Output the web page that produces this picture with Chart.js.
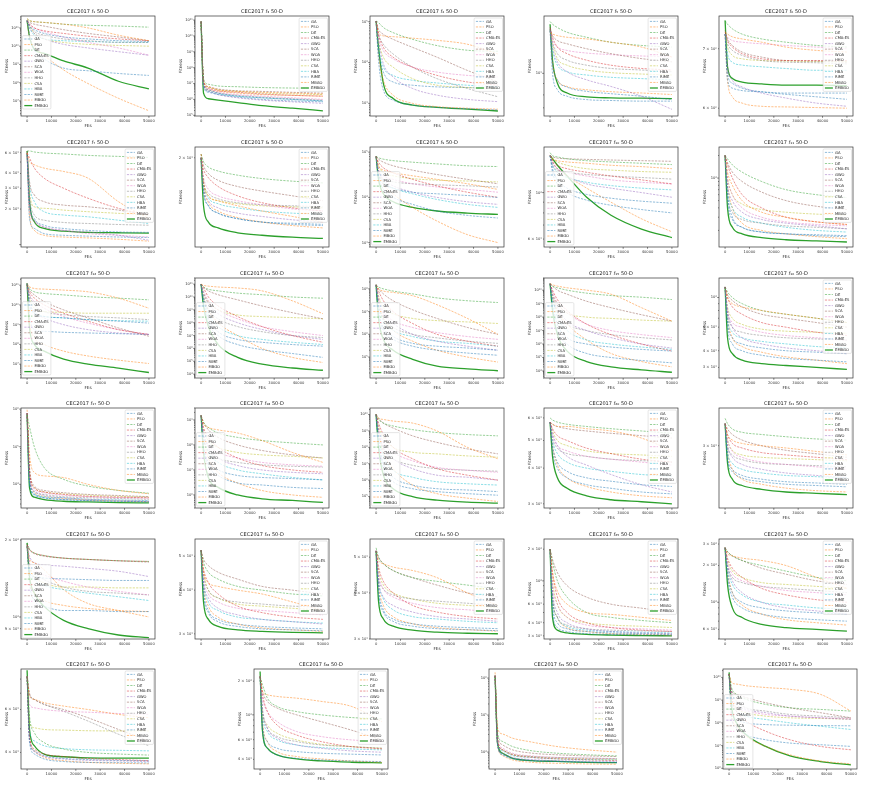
<!DOCTYPE html>
<html><head><meta charset="utf-8">
<script src="https://cdn.jsdelivr.net/npm/chart.js@4.4.1/dist/chart.umd.min.js"></script>
<style>
html,body{margin:0;padding:0;background:#fff;}
#wrap{position:relative;width:872px;height:785px;overflow:hidden;background:#fff;}
#wrap canvas{position:absolute;}
</style></head><body><div id="wrap"></div>
<script>
// ---------------- data ----------------
const FES = [0, 1000, 3000, 7000, 15000, 25000, 37500, 50000];
const X_TICKS = [0, 10000, 20000, 30000, 40000, 50000];
const ALGOS = ['GA','PSO','DE','CMA-ES','GWO','SCA','WOA','HHO','CSA','HBA','RIME','MBGO','EMBGO'];
// each function: one row per algorithm (ALGOS order), one value per FES point

const f1 = [
[2.5e11,1.3e11,8e10,5e10,3.2e10,2.5e10,2e10,1.8e10],
[3.2e11,2.5e11,2.2e11,2e11,1.6e11,1e11,4e10,2e10],
[3.2e11,2.5e11,2.2e11,2e11,1.6e11,1.4e11,1.26e11,1.1e11],
[2.5e11,1.6e11,1e11,7e10,5e10,3.5e10,2.5e10,2e10],
[2.5e11,1e11,5e10,2.5e10,1.26e10,8e9,5e9,3.2e9],
[2.5e11,2e11,1.6e11,1.26e11,8e10,5e10,3.2e10,2e10],
[2.5e11,1.6e11,1e11,6.3e10,3.2e10,1.6e10,8e9,3.2e9],
[2.5e11,1.3e11,6.3e10,4e10,2.5e10,2e10,1.6e10,1.6e10],
[2.5e11,1.3e11,5e10,2.5e10,1.6e10,1.26e10,1.1e10,1e10],
[2.5e11,1e11,4e10,2.5e10,2e10,1.8e10,1.66e10,1.6e10],
[2.5e11,4e10,6.3e9,2e9,6.3e8,4.5e8,3.2e8,2.5e8],
[2.5e11,3.2e10,1e10,3.2e9,5e8,9e7,1.4e7,2.9e6],
[2.5e11,3.2e10,6.6e9,4e9,1.55e9,6.3e8,1.2e8,4.6e7]];
const f3 = [
[8e10,1e7,4e6,2.5e6,1.6e6,1.26e6,1e6,8e5],
[8e10,1.6e7,6.3e6,4e6,3.2e6,2.8e6,2.5e6,2.2e6],
[8e10,2e7,9e6,7e6,6.3e6,5.6e6,5.2e6,5e6],
[8e10,1.26e7,5e6,3.5e6,2.8e6,2.2e6,1.8e6,1.6e6],
[8e10,8e6,3.2e6,2e6,1.26e6,9e5,7e5,5.6e5],
[8e10,1.6e7,6.3e6,4.5e6,3.5e6,3.2e6,2.8e6,2.5e6],
[8e10,1e7,4.5e6,2.8e6,2e6,1.6e6,1.26e6,1e6],
[8e10,8e6,3.5e6,2.5e6,1.8e6,1.4e6,1.1e6,9e5],
[8e10,1.26e7,5.6e6,4e6,3.2e6,2.5e6,2.2e6,2e6],
[8e10,8e6,3.2e6,2.2e6,1.6e6,1.26e6,1e6,8e5],
[8e10,6.3e6,2.8e6,2e6,1.4e6,1e6,8e5,7e5],
[8e10,1e7,4e6,3.2e6,2.5e6,2e6,1.8e6,1.6e6],
[8e10,2.5e6,1.1e6,9e5,6.3e5,4e5,2.8e5,1.9e5]];
const f4 = [
[1.04e5,1.12e4,2.1e3,1.2e3,910,800,740,690],
[1.04e5,5.4e4,4.5e4,4.3e4,3.95e4,3.5e4,2.8e4,1.62e4],
[1.04e5,9.5e4,7.2e4,5.4e4,3.7e4,2.6e4,2.0e4,1.88e4],
[1.04e5,4.9e4,2.35e4,1.35e4,7.7e3,4.84e3,3.34e3,2.78e3],
[1.04e5,3.4e4,9.3e3,4.42e3,2.31e3,1.59e3,1.25e3,1.1e3],
[1.04e5,6.5e4,4.9e4,3.7e4,2.35e4,1.35e4,6.4e3,3.34e3],
[1.04e5,4.1e4,1.95e4,1.23e4,7.7e3,5.83e3,4.84e3,4.42e3],
[1.04e5,4.9e4,2.8e4,1.62e4,7.7e3,4.03e3,2.31e3,1.45e3],
[1.04e5,3.4e4,1.35e4,7.7e3,4.03e3,2.78e3,2.44e3,2.31e3],
[1.04e5,2.35e4,7.7e3,4.84e3,3.67e3,3.16e3,2.78e3,2.53e3],
[1.04e5,1.95e4,5.83e3,3.34e3,2.78e3,2.53e3,2.44e3,2.31e3],
[1.04e5,1.62e4,3.67e3,1.59e3,1e3,830,760,720],
[1.04e5,2.35e4,3.05e3,1.32e3,910,800,720,650]];
const f5 = [
[1555,1000,844,789,762,755,750,750],
[1530,1503,1478,1453,1428,1380,1313,1185],
[1710,1663,1607,1530,1453,1380,1335,1313],
[1607,1453,1313,1226,1146,1088,1052,1035],
[1607,1313,1126,1017,935,873,789,689],
[1580,1478,1404,1358,1290,1226,1165,1126],
[1555,1404,1313,1268,1234,1214,1197,1185],
[1555,1380,1226,1146,1088,1052,1035,1017],
[1580,1358,1165,1088,1035,1007,993,983],
[1555,1268,1088,1017,983,960,947,935],
[1580,1107,935,867,830,810,789,762],
[1555,1107,935,873,844,827,816,803],
[1663,1146,903,816,784,776,773,770]];
const f6 = [
[727,645,632,628,626,624,624,624],
[731,727,722,718,712,703,697,694],
[753,746,737,727,718,712,706,703],
[731,715,703,691,682,679,679,679],
[727,668,645,634,624,616,608,603],
[734,718,706,694,685,679,678,676],
[727,721,715,712,709,706,703,700],
[727,709,697,688,679,676,675,673],
[727,703,688,682,679,678,677,677],
[727,691,676,671,668,665,662,662],
[727,656,640,632,626,622,618,614],
[727,645,618,608,603,602,601,600],
[753,668,648,642,639,637,637,636]];
const f7 = [
[5770,1660,1370,1240,1200,1180,1160,1150],
[5960,5060,4740,4440,4160,3650,2310,1660],
[6200,6200,6080,5960,5850,5690,5580,5470],
[5960,5400,4440,3650,3000,2470,2030,1780],
[5960,2160,1610,1410,1320,1280,1200,1090],
[6200,3420,2630,2310,2160,2090,1960,1780],
[5960,2030,1560,1410,1320,1240,1200,1160],
[5960,2630,1780,1610,1540,1510,1480,1460],
[5960,2810,2090,2030,1960,1900,1840,1780],
[5960,3200,2310,1900,1780,1720,1610,1510],
[5770,2310,1660,1460,1370,1320,1280,1270],
[5960,1780,1320,1200,1160,1140,1110,1070],
[6200,2310,1560,1370,1300,1270,1260,1250]];
const f8 = [
[2000,1600,1450,1380,1330,1300,1290,1280],
[2050,1700,1550,1500,1450,1400,1350,1300],
[2050,1950,1880,1830,1780,1740,1710,1690],
[2000,1850,1750,1650,1550,1480,1430,1400],
[2000,1650,1500,1430,1380,1350,1320,1300],
[2050,1900,1800,1720,1650,1600,1550,1500],
[2000,1750,1620,1550,1500,1460,1420,1400],
[2000,1700,1580,1520,1480,1460,1450,1440],
[2000,1700,1550,1500,1470,1450,1440,1430],
[2000,1680,1530,1470,1430,1400,1380,1370],
[2000,1600,1450,1380,1330,1300,1280,1270],
[2000,1650,1480,1400,1340,1300,1270,1250],
[2000,1450,1300,1250,1210,1190,1175,1165]];
const f9 = [
[8e4,3e4,2e4,1.6e4,1.3e4,1.2e4,1.1e4,1e4],
[8e4,5e4,4e4,3.5e4,3e4,2.5e4,2e4,1.5e4],
[8e4,7.5e4,7e4,6.5e4,6e4,5.5e4,5e4,4.8e4],
[8e4,6e4,4.5e4,3.5e4,2.5e4,1.8e4,1.3e4,1e4],
[8e4,4e4,2.5e4,1.8e4,1.3e4,1e4,8e3,7e3],
[8e4,7e4,6e4,5e4,4e4,3.2e4,2.5e4,2e4],
[8e4,4e4,3e4,2.5e4,2e4,1.7e4,1.5e4,1.3e4],
[8e4,3e4,2.5e4,2.2e4,2e4,1.9e4,1.8e4,1.7e4],
[8e4,5e4,3.5e4,3e4,2.6e4,2.4e4,2.3e4,2.2e4],
[8e4,3.5e4,2.2e4,1.6e4,1.2e4,9e3,7e3,6e3],
[8e4,3e4,1.5e4,1e4,7e3,5e3,4e3,3.5e3],
[8e4,4e4,2e4,1.2e4,6e3,3e3,1.5e3,1e3],
[8e4,2.5e4,1.2e4,8e3,6e3,5e3,4.5e3,4.2e3]];
const f10 = [
[1.5e4,1.3e4,1.15e4,1.05e4,9.8e3,9.4e3,9.1e3,8.9e3],
[1.5e4,1.45e4,1.42e4,1.4e4,1.38e4,1.35e4,1.33e4,1.3e4],
[1.55e4,1.5e4,1.48e4,1.45e4,1.42e4,1.4e4,1.38e4,1.36e4],
[1.5e4,1.42e4,1.35e4,1.3e4,1.25e4,1.2e4,1.15e4,1.1e4],
[1.5e4,1.4e4,1.3e4,1.2e4,1.1e4,1.05e4,1e4,9.5e3],
[1.5e4,1.48e4,1.46e4,1.45e4,1.44e4,1.43e4,1.42e4,1.41e4],
[1.5e4,1.38e4,1.3e4,1.25e4,1.2e4,1.15e4,1.12e4,1.1e4],
[1.5e4,1.35e4,1.28e4,1.25e4,1.22e4,1.2e4,1.18e4,1.16e4],
[1.5e4,1.45e4,1.4e4,1.35e4,1.3e4,1.28e4,1.26e4,1.25e4],
[1.5e4,1.35e4,1.25e4,1.18e4,1.12e4,1.08e4,1.05e4,1.03e4],
[1.5e4,1.25e4,1.1e4,1e4,9.2e3,8.7e3,8.3e3,8e3],
[1.5e4,1.4e4,1.3e4,1.2e4,1.05e4,9e3,7.5e3,6.5e3],
[1.5e4,1.45e4,1.35e4,1.2e4,9.5e3,7.8e3,6.7e3,6.1e3]];
const f11 = [
[2e4,6e3,3e3,2.2e3,1.9e3,1.8e3,1.75e3,1.7e3],
[2e4,1.2e4,8e3,5e3,3.5e3,3e3,2.6e3,2.4e3],
[2e4,1.8e4,1.5e4,1.2e4,9e3,7e3,6e3,5.5e3],
[2e4,1.5e4,1e4,6e3,4e3,3e3,2.6e3,2.4e3],
[2e4,8e3,5e3,3.5e3,2.8e3,2.5e3,2.3e3,2.1e3],
[2e4,1.6e4,1.2e4,9e3,6.5e3,5e3,4.2e3,3.8e3],
[2e4,1e4,6e3,4e3,3e3,2.6e3,2.4e3,2.3e3],
[2e4,6e3,3.5e3,2.8e3,2.5e3,2.3e3,2.2e3,2.1e3],
[2e4,1e4,6e3,4.5e3,3.8e3,3.5e3,3.3e3,3.2e3],
[2e4,7e3,4e3,3e3,2.5e3,2.2e3,2e3,1.9e3],
[2e4,5e3,2.8e3,2.2e3,1.9e3,1.8e3,1.7e3,1.65e3],
[2e4,8e3,4e3,2.5e3,2e3,1.8e3,1.65e3,1.55e3],
[2e4,4e3,2.2e3,1.8e3,1.6e3,1.5e3,1.45e3,1.4e3]];
const f12 = [
[1.2e11,1e10,3.8e9,2.6e9,2.2e9,1.8e9,1.5e9,1.2e9],
[1.2e11,8.3e10,6.8e10,6.3e10,5.6e10,4.6e10,2.2e10,6.8e9],
[1.2e11,6.8e10,4.6e10,3.8e10,3.2e10,2.6e10,2.2e10,1.8e10],
[1e11,4.6e10,2.2e10,1e10,3.8e9,1.5e9,5.6e8,3.2e8],
[1.2e11,1.5e10,4.6e9,2.2e9,1e9,5.6e8,3.8e8,3.2e8],
[1e11,5.6e10,3.2e10,1.5e10,5.6e9,2.2e9,6.8e8,2.6e8],
[6.8e10,3.2e10,1.5e10,6.8e9,2.6e9,1.2e9,5.6e8,3.2e8],
[1.2e11,3.2e10,1e10,4.6e9,3.2e9,2.6e9,2.2e9,1.8e9],
[1.2e11,2.2e10,6.8e9,4.6e9,4.2e9,3.8e9,3.8e9,3.8e9],
[1.2e11,1.5e10,3.8e9,2.6e9,2.2e9,1.8e9,1.6e9,1.5e9],
[1.2e11,3.2e9,5.6e8,4.6e8,4.1e8,3.8e8,3.5e8,3.2e8],
[1.2e11,1.5e9,2.2e8,1e8,4.6e7,2.6e7,1.6e7,1.08e7],
[1.2e11,6.8e8,1e8,4.6e7,1.8e7,1e7,6.3e6,3.8e6]];
const f13 = [
[1e11,5e9,2e8,2e7,5e6,3e6,2e6,1.5e6],
[1e11,8e10,7e10,6e10,5e10,3e10,5e9,5e8],
[1e11,6e10,4e10,3e10,2e10,1.5e10,1e10,8e9],
[1e11,5e10,1e10,2e9,3e8,5e7,1e7,3e6],
[1e11,2e10,3e9,5e8,1e8,3e7,1e7,5e6],
[1e11,6e10,3e10,1.5e10,6e9,2e9,6e8,2e8],
[1e11,3e10,5e9,1e9,2e8,5e7,2e7,1e7],
[1e11,1e10,1e9,2e8,5e7,2e7,1e7,7e6],
[1e11,2e10,4e9,1e9,4e8,3e8,2.5e8,2e8],
[1e11,1e10,5e8,5e7,1e7,5e6,3e6,2e6],
[1e11,3e9,1e8,1e7,2e6,8e5,4e5,2e5],
[1e11,1e10,1e9,1e8,1e7,1e6,2e5,8e4],
[1e11,2e9,5e7,2e6,2e5,6e4,3e4,2e4]];
const f14 = [
[1.5e8,1e7,2e6,8e5,4e5,3e5,2.5e5,2e5],
[1.5e8,1e8,8e7,7e7,5e7,2e7,5e6,1e6],
[1.5e8,1.2e8,1e8,8e7,6e7,4e7,3e7,2.5e7],
[1.5e8,8e7,3e7,1e7,3e6,1e6,5e5,3e5],
[1.5e8,3e7,8e6,3e6,1e6,5e5,3e5,2e5],
[1.5e8,1e8,6e7,3e7,1.2e7,5e6,2e6,1e6],
[1.5e8,4e7,1e7,4e6,2e6,1.2e6,8e5,6e5],
[1.5e8,2e7,5e6,2e6,1e6,7e5,5e5,4e5],
[1.5e8,5e7,1.5e7,8e6,5e6,4e6,3.5e6,3e6],
[1.5e8,2e7,4e6,1.5e6,8e5,5e5,4e5,3e5],
[1.5e8,1e7,1.5e6,6e5,3e5,2e5,1.5e5,1.2e5],
[1.5e8,3e7,5e6,1.5e6,5e5,2e5,1e5,6e4],
[1.5e8,5e6,6e5,2e5,8e4,4e4,3e4,2.5e4]];
const f15 = [
[3e10,1e9,3e7,3e6,1e6,6e5,4e5,3e5],
[3e10,2.5e10,2e10,1.5e10,1e10,5e9,5e8,5e7],
[3e10,2e10,1.5e10,1e10,6e9,4e9,3e9,2e9],
[3e10,1e10,2e9,3e8,3e7,5e6,1e6,3e5],
[3e10,5e9,5e8,5e7,1e7,3e6,1e6,5e5],
[3e10,2e10,1e10,5e9,1.5e9,5e8,1.5e8,5e7],
[3e10,8e9,1e9,2e8,3e7,1e7,5e6,3e6],
[3e10,3e9,2e8,3e7,1e7,5e6,3e6,2e6],
[3e10,5e9,1e9,2e8,1e8,8e7,6e7,5e7],
[3e10,2e9,1e8,1e7,2e6,1e6,6e5,4e5],
[3e10,5e8,1e7,1e6,2e5,1e5,6e4,4e4],
[3e10,3e9,3e8,3e7,2e6,2e5,5e4,2e4],
[3e10,3e8,5e6,3e5,5e4,2e4,1.2e4,8e3]];
const f16 = [
[1.2e4,6.5e3,5e3,4.5e3,4.2e3,4e3,3.9e3,3.8e3],
[1.2e4,1e4,9e3,8.5e3,8e3,7.5e3,7e3,6.5e3],
[1.2e4,1.1e4,1e4,9e3,8e3,7.5e3,7e3,6.5e3],
[1.2e4,1e4,8.5e3,7.5e3,6.5e3,6e3,5.5e3,5.2e3],
[1.2e4,8e3,6e3,5e3,4.5e3,4.2e3,4e3,3.8e3],
[1.2e4,1.05e4,9.5e3,8.5e3,7.5e3,7e3,6.5e3,6e3],
[1.2e4,8e3,6.5e3,6e3,5.5e3,5.2e3,5e3,4.8e3],
[1.2e4,7.5e3,6e3,5.5e3,5.2e3,5e3,4.9e3,4.8e3],
[1.2e4,8.5e3,7e3,6.3e3,5.8e3,5.6e3,5.5e3,5.4e3],
[1.2e4,7e3,5.5e3,5e3,4.7e3,4.5e3,4.3e3,4.2e3],
[1.2e4,6e3,4.5e3,4e3,3.7e3,3.5e3,3.4e3,3.3e3],
[1.2e4,7e3,5e3,4.3e3,3.9e3,3.6e3,3.4e3,3.2e3],
[1.2e4,5e3,3.8e3,3.4e3,3.2e3,3.1e3,3e3,2.9e3]];
const f17 = [
[7.8e5,1.23e4,5.4e3,4.4e3,3.94e3,3.7e3,3.55e3,3.4e3],
[9.6e5,6.5e4,2.07e4,1.68e4,1.51e4,1e4,6.9e3,5.6e3],
[7e5,3.4e5,9.8e4,2.8e4,1.36e4,9e3,6.9e3,5.8e3],
[7.8e5,2.3e4,8.1e3,6.3e3,5.4e3,4.8e3,4.55e3,4.4e3],
[7.8e5,1.51e4,6.6e3,5.15e3,4.4e3,4e3,3.78e3,3.6e3],
[7.8e5,2.8e4,9e3,6.9e3,6e3,5.4e3,5.05e3,4.7e3],
[7.8e5,1.86e4,7.3e3,6e3,5.15e3,4.7e3,4.45e3,4.3e3],
[7.8e5,1.51e4,6.3e3,5.4e3,4.7e3,4.4e3,4.2e3,4e3],
[7.8e5,2.3e4,8.1e3,6.3e3,5.6e3,5.15e3,4.8e3,4.6e3],
[7.8e5,1.23e4,5.6e3,4.7e3,4.4e3,4e3,3.85e3,3.7e3],
[7.8e5,1e4,5.15e3,4.4e3,3.94e3,3.7e3,3.55e3,3.47e3],
[7.8e5,1.51e4,6e3,4.8e3,4.2e3,3.85e3,3.6e3,3.47e3],
[7e5,8.1e3,4.55e3,3.94e3,3.55e3,3.4e3,3.27e3,3.2e3]];
const f18 = [
[1.5e9,1e8,2e7,1e7,6e6,5e6,4.5e6,4e6],
[1.5e9,7e8,5e8,4e8,3e8,1.5e8,5e7,2e7],
[1.5e9,8e8,5e8,3e8,2e8,1.5e8,1.2e8,1e8],
[1.5e9,5e8,2e8,8e7,3e7,1.5e7,1e7,8e6],
[1.5e9,3e8,8e7,3e7,1.5e7,1e7,8e6,7e6],
[1.5e9,8e8,4e8,2e8,1e8,6e7,4e7,3e7],
[1.5e9,3e8,1e8,5e7,3e7,2e7,1.6e7,1.4e7],
[1.5e9,2e8,6e7,3e7,2e7,1.6e7,1.4e7,1.3e7],
[1.5e9,4e8,1.5e8,8e7,5e7,4e7,3.5e7,3e7],
[1.5e9,2e8,5e7,2e7,1e7,7e6,5e6,4e6],
[1.5e9,8e7,1.5e7,6e6,3e6,2.5e6,2e6,1.8e6],
[1.5e9,2e8,3e7,8e6,3e6,1.5e6,1e6,8e5],
[1.5e9,5e7,5e6,2e6,1e6,7e5,6e5,5e5]];
const f19 = [
[1e10,3e8,1e7,1.5e6,5e5,3e5,2.5e5,2e5],
[1e10,6e9,5e9,4e9,3e9,1e9,1e8,2e7],
[1e10,5e9,3e9,2e9,1.2e9,8e8,6e8,5e8],
[1e10,3e9,6e8,1e8,2e7,5e6,2e6,1e6],
[1e10,1e9,1e8,2e7,5e6,2e6,1.5e6,1e6],
[1e10,6e9,3e9,1.5e9,5e8,2e8,8e7,4e7],
[1e10,1.5e9,2e8,5e7,1.5e7,6e6,4e6,3e6],
[1e10,8e8,8e7,2e7,8e6,5e6,4e6,3.5e6],
[1e10,2e9,4e8,1e8,5e7,4e7,3e7,2.5e7],
[1e10,6e8,3e7,4e6,1.5e6,8e5,6e5,5e5],
[1e10,2e8,5e6,8e5,3e5,2e5,1.5e5,1.2e5],
[1e10,1e9,5e7,5e6,5e5,1.5e5,8e4,5e4],
[1e10,1e8,2e6,3e5,1e5,6e4,4.5e4,4e4]];
const f20 = [
[5.8e3,4.8e3,4.2e3,3.9e3,3.7e3,3.6e3,3.5e3,3.45e3],
[5.8e3,5.7e3,5.6e3,5.6e3,5.5e3,5.4e3,5.1e3,4.6e3],
[6e3,5.9e3,5.8e3,5.7e3,5.6e3,5.5e3,5.4e3,5.3e3],
[5.8e3,5.5e3,5.2e3,5e3,4.7e3,4.5e3,4.3e3,4.2e3],
[5.8e3,5.3e3,4.8e3,4.4e3,4.1e3,3.8e3,3.5e3,3.3e3],
[5.8e3,5.7e3,5.6e3,5.5e3,5.4e3,5.3e3,5.2e3,5.1e3],
[5.8e3,5.2e3,4.8e3,4.6e3,4.4e3,4.3e3,4.2e3,4.1e3],
[5.8e3,5.1e3,4.7e3,4.5e3,4.4e3,4.3e3,4.25e3,4.2e3],
[5.8e3,5.4e3,5e3,4.8e3,4.6e3,4.5e3,4.45e3,4.4e3],
[5.8e3,5e3,4.5e3,4.2e3,4e3,3.9e3,3.8e3,3.75e3],
[5.8e3,4.6e3,4e3,3.7e3,3.5e3,3.4e3,3.3e3,3.25e3],
[5.8e3,4.8e3,4.1e3,3.7e3,3.45e3,3.3e3,3.2e3,3.15e3],
[5.8e3,4.4e3,3.7e3,3.4e3,3.2e3,3.1e3,3.05e3,3e3]];
const f21 = [
[3.2e3,2.9e3,2.8e3,2.75e3,2.72e3,2.7e3,2.69e3,2.68e3],
[3.2e3,3.1e3,3.05e3,3.02e3,3e3,2.98e3,2.95e3,2.92e3],
[3.25e3,3.2e3,3.15e3,3.12e3,3.1e3,3.08e3,3.06e3,3.05e3],
[3.2e3,3.1e3,3.02e3,2.98e3,2.94e3,2.92e3,2.9e3,2.88e3],
[3.2e3,3e3,2.9e3,2.84e3,2.8e3,2.77e3,2.75e3,2.73e3],
[3.2e3,3.15e3,3.1e3,3.05e3,3e3,2.96e3,2.93e3,2.9e3],
[3.2e3,3.05e3,2.95e3,2.9e3,2.86e3,2.84e3,2.82e3,2.8e3],
[3.2e3,3e3,2.92e3,2.88e3,2.85e3,2.84e3,2.83e3,2.82e3],
[3.2e3,3.05e3,2.96e3,2.92e3,2.9e3,2.89e3,2.88e3,2.87e3],
[3.2e3,2.95e3,2.85e3,2.8e3,2.77e3,2.75e3,2.74e3,2.73e3],
[3.2e3,2.88e3,2.78e3,2.73e3,2.7e3,2.68e3,2.67e3,2.66e3],
[3.2e3,2.95e3,2.8e3,2.72e3,2.68e3,2.65e3,2.63e3,2.62e3],
[3.2e3,2.85e3,2.72e3,2.67e3,2.64e3,2.62e3,2.61e3,2.6e3]];
const f22 = [
[1.89e4,1.49e4,1.44e4,1.42e4,1.41e4,1.40e4,1.39e4,1.39e4],
[1.89e4,1.68e4,1.63e4,1.53e4,1.28e4,1.13e4,1.06e4,1e4],
[1.95e4,1.84e4,1.78e4,1.74e4,1.70e4,1.68e4,1.66e4,1.65e4],
[1.92e4,1.84e4,1.78e4,1.74e4,1.70e4,1.68e4,1.66e4,1.65e4],
[1.92e4,1.73e4,1.63e4,1.60e4,1.58e4,1.55e4,1.51e4,1.44e4],
[1.92e4,1.83e4,1.77e4,1.73e4,1.70e4,1.68e4,1.66e4,1.64e4],
[1.89e4,1.63e4,1.53e4,1.46e4,1.38e4,1.31e4,1.26e4,1.22e4],
[1.89e4,1.58e4,1.49e4,1.40e4,1.31e4,1.26e4,1.24e4,1.22e4],
[1.89e4,1.58e4,1.44e4,1.36e4,1.31e4,1.31e4,1.30e4,1.30e4],
[1.89e4,1.53e4,1.40e4,1.33e4,1.28e4,1.24e4,1.20e4,1.16e4],
[1.89e4,1.36e4,1.16e4,1.10e4,1.06e4,1.06e4,1.05e4,1.05e4],
[1.89e4,1.40e4,1.24e4,1.16e4,1.11e4,1.08e4,1.06e4,1.05e4],
[1.95e4,1.44e4,1.24e4,1.10e4,9.7e3,9.0e3,8.5e3,8.3e3]];
const f23 = [
[5.2e3,4e3,3.5e3,3.3e3,3.2e3,3.15e3,3.12e3,3.1e3],
[5.2e3,4.5e3,4.2e3,4.1e3,4e3,3.9e3,3.7e3,3.5e3],
[5.2e3,4.8e3,4.5e3,4.3e3,4.1e3,4e3,3.9e3,3.85e3],
[5.2e3,4.6e3,4.2e3,3.9e3,3.6e3,3.45e3,3.35e3,3.3e3],
[5.2e3,4.2e3,3.8e3,3.55e3,3.4e3,3.3e3,3.25e3,3.2e3],
[5.2e3,4.9e3,4.7e3,4.5e3,4.3e3,4.1e3,4e3,3.9e3],
[5.2e3,4.3e3,3.9e3,3.7e3,3.55e3,3.5e3,3.45e3,3.4e3],
[5.2e3,4.4e3,4e3,3.8e3,3.7e3,3.65e3,3.6e3,3.58e3],
[5.2e3,4.5e3,4e3,3.8e3,3.65e3,3.6e3,3.55e3,3.5e3],
[5.2e3,4.2e3,3.7e3,3.5e3,3.35e3,3.3e3,3.25e3,3.22e3],
[5.2e3,3.9e3,3.45e3,3.25e3,3.15e3,3.1e3,3.08e3,3.06e3],
[5.2e3,4.1e3,3.6e3,3.35e3,3.2e3,3.12e3,3.08e3,3.05e3],
[5.2e3,3.7e3,3.3e3,3.15e3,3.08e3,3.05e3,3.03e3,3.02e3]];
const f24 = [
[5.2e3,4.1e3,3.6e3,3.4e3,3.3e3,3.25e3,3.22e3,3.2e3],
[5.2e3,4.9e3,4.8e3,4.7e3,4.6e3,4.4e3,4e3,3.7e3],
[5.3e3,5e3,4.8e3,4.6e3,4.4e3,4.3e3,4.2e3,4.1e3],
[5.2e3,4.7e3,4.3e3,4e3,3.7e3,3.55e3,3.45e3,3.4e3],
[5.2e3,4.3e3,3.9e3,3.7e3,3.55e3,3.45e3,3.4e3,3.35e3],
[5.2e3,5e3,4.8e3,4.6e3,4.4e3,4.2e3,4e3,3.9e3],
[5.2e3,4.5e3,4.1e3,3.9e3,3.75e3,3.65e3,3.6e3,3.55e3],
[5.2e3,4.4e3,4.1e3,3.95e3,3.85e3,3.8e3,3.75e3,3.7e3],
[5.2e3,4.6e3,4.2e3,4e3,3.85e3,3.75e3,3.7e3,3.65e3],
[5.2e3,4.3e3,3.85e3,3.6e3,3.45e3,3.4e3,3.35e3,3.32e3],
[5.2e3,4e3,3.55e3,3.35e3,3.25e3,3.2e3,3.18e3,3.16e3],
[5.2e3,4.2e3,3.7e3,3.45e3,3.3e3,3.22e3,3.18e3,3.15e3],
[5.2e3,3.8e3,3.4e3,3.25e3,3.17e3,3.13e3,3.11e3,3.1e3]];
const f25 = [
[2e4,6e3,4e3,3.5e3,3.3e3,3.2e3,3.15e3,3.1e3],
[2e4,1.2e4,8e3,6e3,5e3,4.8e3,4.5e3,4.2e3],
[2e4,1.5e4,1e4,7e3,5e3,4.5e3,4.2e3,4e3],
[2e4,1.2e4,7e3,5e3,4e3,3.6e3,3.4e3,3.3e3],
[2e4,8e3,5e3,4e3,3.5e3,3.3e3,3.2e3,3.15e3],
[2e4,1.6e4,1.2e4,9e3,7e3,6e3,5.5e3,5e3],
[2e4,9e3,6e3,4.5e3,3.8e3,3.6e3,3.5e3,3.4e3],
[2e4,7e3,4.5e3,3.8e3,3.5e3,3.4e3,3.35e3,3.3e3],
[2e4,1e4,6e3,4.5e3,4e3,3.8e3,3.7e3,3.6e3],
[2e4,7e3,4.5e3,3.7e3,3.4e3,3.3e3,3.25e3,3.2e3],
[2e4,5e3,3.6e3,3.3e3,3.15e3,3.1e3,3.07e3,3.05e3],
[2e4,7e3,4.5e3,3.6e3,3.3e3,3.15e3,3.1e3,3.05e3],
[2e4,4.5e3,3.4e3,3.2e3,3.1e3,3.05e3,3.02e3,3e3]];
const f26 = [
[2.8e4,1.7e4,1.2e4,1e4,9e3,8.5e3,8.2e3,8e3],
[2.8e4,2.5e4,2.4e4,2.3e4,2.2e4,2e4,1.6e4,1.3e4],
[2.8e4,2.6e4,2.4e4,2.2e4,2e4,1.8e4,1.6e4,1.5e4],
[2.8e4,2.3e4,1.9e4,1.6e4,1.3e4,1.15e4,1.05e4,1e4],
[2.8e4,2e4,1.5e4,1.2e4,1e4,9e3,8.5e3,8e3],
[2.8e4,2.6e4,2.4e4,2.2e4,1.9e4,1.7e4,1.5e4,1.4e4],
[2.8e4,2.1e4,1.7e4,1.5e4,1.35e4,1.25e4,1.2e4,1.15e4],
[2.8e4,2e4,1.6e4,1.45e4,1.35e4,1.3e4,1.25e4,1.2e4],
[2.8e4,2.2e4,1.8e4,1.6e4,1.45e4,1.4e4,1.35e4,1.3e4],
[2.8e4,1.9e4,1.4e4,1.15e4,1e4,9.5e3,9e3,8.8e3],
[2.8e4,1.6e4,1.1e4,9e3,8e3,7.5e3,7.2e3,7e3],
[2.8e4,1.8e4,1.2e4,9.5e3,8e3,7.2e3,6.8e3,6.5e3],
[2.8e4,1.4e4,9e3,7.5e3,6.6e3,6.2e3,6e3,5.8e3]];
const f27 = [
[8.2e3,4.39e3,3.94e3,3.76e3,3.67e3,3.64e3,3.63e3,3.62e3],
[8.2e3,6.8e3,6.6e3,6.4e3,6.2e3,6.0e3,5.73e3,5.55e3],
[8.2e3,5.64e3,4.82e3,4.39e3,4.13e3,4.0e3,3.94e3,3.9e3],
[8.2e3,4.67e3,4.13e3,3.94e3,3.85e3,3.78e3,3.74e3,3.7e3],
[8.2e3,4.53e3,4.03e3,3.85e3,3.76e3,3.71e3,3.69e3,3.67e3],
[8.2e3,7.0e3,6.6e3,6.3e3,6.0e3,5.55e3,4.97e3,4.46e3],
[8.2e3,6.3e3,6.1e3,6.0e3,5.9e3,5.85e3,5.78e3,5.73e3],
[8.2e3,6.9e3,6.6e3,6.3e3,5.9e3,5.38e3,4.75e3,4.26e3],
[8.2e3,5.3e3,5.05e3,4.97e3,4.94e3,4.91e3,4.9e3,4.9e3],
[8.2e3,4.9e3,4.46e3,4.26e3,4.15e3,4.1e3,4.08e3,4.06e3],
[8.2e3,4.53e3,4.06e3,3.88e3,3.78e3,3.74e3,3.71e3,3.7e3],
[8.2e3,4.67e3,4.06e3,3.82e3,3.7e3,3.64e3,3.61e3,3.59e3],
[8.7e3,4.97e3,4.26e3,3.94e3,3.84e3,3.8e3,3.79e3,3.79e3]];
const f28 = [
[2.2e4,7.1e3,5.03e3,4.38e3,4.09e3,3.95e3,3.87e3,3.82e3],
[2.2e4,1.62e4,1.51e4,1.46e4,1.41e4,1.32e4,1.19e4,8.7e3],
[2.2e4,1.86e4,1.41e4,1.19e4,1.07e4,1e4,9.46e3,9.2e3],
[2.2e4,1.51e4,1.07e4,8.1e3,6.6e3,5.77e3,5.2e3,4.96e3],
[2.2e4,1.15e4,7.6e3,6.2e3,5.38e3,5.03e3,4.76e3,4.63e3],
[2.2e4,1.62e4,1.32e4,1.15e4,1e4,8.7e3,7.3e3,5.97e3],
[2.2e4,1.41e4,1.07e4,8.7e3,7.1e3,6.4e3,5.97e3,5.77e3],
[2.2e4,1.07e4,7.6e3,6.4e3,5.77e3,5.38e3,5.2e3,5.03e3],
[2.2e4,1.07e4,8.1e3,6.85e3,5.97e3,5.46e3,5.2e3,5.03e3],
[2.2e4,1e4,7.1e3,5.97e3,5.38e3,5.1e3,4.96e3,4.86e3],
[2.2e4,8.1e3,5.77e3,5.03e3,4.7e3,4.54e3,4.45e3,4.38e3],
[2.2e4,8.7e3,5.77e3,4.7e3,4.24e3,4.04e3,3.87e3,3.77e3],
[2.44e4,7.1e3,5.03e3,4.38e3,4.04e3,3.87e3,3.77e3,3.72e3]];
const f29 = [
[1.16e6,1.58e4,8.5e3,6.6e3,5.8e3,5.6e3,5.3e3,5.2e3],
[1.43e6,4.5e4,3.1e4,2.4e4,1.87e4,1.43e4,1.16e4,1e4],
[1.04e6,3.3e4,1.95e4,1.43e4,1.09e4,9.4e3,8.5e3,7.9e3],
[1.16e6,2.17e4,1.16e4,8.5e3,7.2e3,6.6e3,6.2e3,5.9e3],
[1.16e6,1.76e4,9.4e3,7.2e3,6.3e3,5.9e3,5.7e3,5.6e3],
[1.16e6,2.97e4,1.58e4,1.16e4,9.4e3,8.5e3,7.9e3,7.6e3],
[1.16e6,2.4e4,1.29e4,9.4e3,7.9e3,7.2e3,6.9e3,6.6e3],
[1.16e6,2.17e4,1.16e4,8.8e3,7.6e3,7.2e3,6.9e3,6.7e3],
[1.16e6,2.17e4,1.16e4,8.8e3,7.6e3,6.9e3,6.6e3,6.4e3],
[1.16e6,1.95e4,1.09e4,8.1e3,7.2e3,6.6e3,6.3e3,6.2e3],
[1.16e6,1.58e4,8.8e3,6.9e3,6.05e3,5.7e3,5.45e3,5.3e3],
[1.16e6,1.58e4,8.1e3,6.2e3,5.3e3,5.0e3,4.8e3,4.7e3],
[1.16e6,1.76e4,9.4e3,6.9e3,5.9e3,5.6e3,5.3e3,5.2e3]];
const f30 = [
[1.41e10,3.3e8,1.41e8,1e8,8.4e7,7.9e7,7.6e7,7.4e7],
[1.41e10,6e9,5.1e9,4.3e9,3.6e9,3e9,1.8e9,3.3e8],
[1.41e10,3.6e9,1.8e9,1.09e9,6.5e8,4.6e8,3.9e8,3.3e8],
[1.41e10,1.29e9,3.3e8,1.19e8,4.3e7,1.8e7,9.2e6,6.5e6],
[1.41e10,1.8e9,6.5e8,3.9e8,2.8e8,1.98e8,1.67e8,1.41e8],
[1.41e10,2.55e9,1.8e9,1.29e9,7.7e8,4.6e8,2.8e8,1.67e8],
[1.41e10,1.29e9,4.6e8,3.3e8,2.35e8,1.98e8,1.67e8,1.56e8],
[1.41e10,2.55e9,9.2e8,4.6e8,3.3e8,2.35e8,1.98e8,1.67e8],
[1.41e10,1.29e9,4.6e8,2.8e8,1.98e8,1.67e8,1.56e8,1.46e8],
[1.41e10,9.2e8,3.3e8,1.98e8,1.41e8,1e8,7.1e7,5.1e7],
[1.41e10,1.67e8,6e7,3e7,1.8e7,1.29e7,1.09e7,9.2e6],
[1.41e10,2.35e8,7.1e7,2.55e7,9.2e6,3.9e6,2.1e6,1.56e6],
[1.67e10,5.5e8,1e8,3e7,9.2e6,3.5e6,1.98e6,1.41e6]];

// y tick values per function
const f1_yt = [1e7,1e8,1e9,1e10,1e11];
const f3_yt = [1e5,1e6,1e7,1e8,1e9,1e10,1e11];
const f4_yt = [1e3,1e4,1e5];
const f5_yt = [1e3];
const f6_yt = [600,700];
const f7_yt = [2e3,3e3,4e3,6e3];
const f8_yt = [2e3];
const f9_yt = [1e3,1e4,1e5];
const f10_yt = [6e3,1e4];
const f11_yt = [1e4];
const f12_yt = [1e7,1e8,1e9,1e10,1e11];
const f13_yt = [1e4,1e5,1e6,1e7,1e8,1e9,1e10,1e11];
const f14_yt = [1e5,1e6,1e7,1e8];
const f15_yt = [1e4,1e5,1e6,1e7,1e8,1e9,1e10];
const f16_yt = [3e3,4e3,6e3,1e4];
const f17_yt = [1e4,1e5,1e6];
const f18_yt = [1e6,1e7,1e8,1e9];
const f19_yt = [1e5,1e6,1e7,1e8,1e9,1e10];
const f20_yt = [3e3,4e3,5e3,6e3];
const f21_yt = [3e3];
const f22_yt = [9e3,1e4,2e4];
const f23_yt = [3e3,4e3,5e3];
const f24_yt = [3e3,4e3,5e3];
const f25_yt = [3e3,4e3,6e3,1e4,2e4];
const f26_yt = [6e3,1e4,2e4,3e4];
const f27_yt = [4e3,6e3];
const f28_yt = [4e3,6e3,1e4,2e4];
const f29_yt = [1e4,1e5,1e6];
const f30_yt = [1e6,1e7,1e8,1e9,1e10];

// ---------------- panel configuration (axis range, legend side) ----------------
const PANELS = [
 ['1', f1, f1_yt, 1.5e6, 4.5e11, 'l', 7],
 ['3', f3, f3_yt, 9e4, 1.8e11, 'r', 2],
 ['4', f4, f4_yt, 490, 1.38e5, 'r', 2],
 ['5', f5, f5_yt, 643, 1811, 'r', 2],
 ['6', f6, f6_yt, 588, 762, 'r', 2],
 ['7', f7, f7_yt, 955, 6700, 'r', 2],
 ['8', f8, f8_yt, 1100, 2150, 'r', 2],
 ['9', f9, f9_yt, 800, 1.3e5, 'l', 2],
 ['10', f10, f10_yt, 5500, 16500, 'l', 2],
 ['11', f11, f11_yt, 1200, 26000, 'r', 2],
 ['12', f12, f12_yt, 2e6, 2.3e11, 'l', 3],
 ['13', f13, f13_yt, 5e3, 3e11, 'l', 2],
 ['14', f14, f14_yt, 1.2e4, 3e8, 'l', 2],
 ['15', f15, f15_yt, 3e3, 8e10, 'l', 2],
 ['16', f16, f16_yt, 2500, 14000, 'r', 2],
 ['17', f17, f17_yt, 2350, 1.07e6, 'r', 2],
 ['18', f18, f18_yt, 3e5, 3e9, 'l', 2],
 ['19', f19, f19_yt, 2e4, 2.5e10, 'l', 2],
 ['20', f20, f20_yt, 2900, 6500, 'r', 2],
 ['21', f21, f21_yt, 2500, 3350, 'r', 2],
 ['22', f22, f22_yt, 8200, 20200, 'l', 1],
 ['23', f23, f23_yt, 2900, 5600, 'r', 2],
 ['24', f24, f24_yt, 3000, 5600, 'r', 2],
 ['25', f25, f25_yt, 2800, 25000, 'r', 2],
 ['26', f26, f26_yt, 5000, 33000, 'r', 2],
 ['27', f27, f27_yt, 3420, 8800, 'r', 2],
 ['28', f28, f28_yt, 3280, 25700, 'r', 2],
 ['29', f29, f29_yt, 3500, 1.76e6, 'r', 2],
 ['30', f30, f30_yt, 9.3e5, 2.35e10, 'l', 1]
];

const COLORS = ['#1f77b4','#ff7f0e','#2ca02c','#d62728','#9467bd','#8c564b','#e377c2','#7f7f7f','#bcbd22','#17becf','#1f77b4','#ff7f0e','#2ca02c'];
const FONT = '"DejaVu Sans", "Liberation Sans", sans-serif';
Chart.defaults.font.family = FONT;
Chart.defaults.color = '#222';

const SUP = {'0':'⁰','1':'¹','2':'²','3':'³','4':'⁴','5':'⁵','6':'⁶','7':'⁷','8':'⁸','9':'⁹','-':'⁻'};
const SUB = {'0':'₀','1':'₁','2':'₂','3':'₃','4':'₄','5':'₅','6':'₆','7':'₇','8':'₈','9':'₉'};
function fmtTick(v){
  const e = Math.floor(Math.log10(v) + 1e-9);
  const m = Math.round(v / Math.pow(10, e));
  const s = '10' + String(e).split('').map(c => SUP[c]).join('');
  return m === 1 ? s : (m + ' × ' + s);
}
function rgba(hex, a){
  const n = parseInt(hex.slice(1), 16);
  return `rgba(${(n>>16)&255},${(n>>8)&255},${n&255},${a})`;
}
function lineStyle(i){
  if (i === 12) return {color:'#2ca02c', width:1.3, dash:[]};
  return {color: rgba(COLORS[i], 0.7), width:0.7, dash:[2.2,1.2]};
}

function makePlugin(sub, side, gap){
  return {
    id: 'panelDeco',
    afterDraw(chart){
      const ctx = chart.ctx, a = chart.chartArea;
      const xs = chart.scales.x, ys = chart.scales.y;
      ctx.save();
      // tick marks
      ctx.strokeStyle = '#333'; ctx.lineWidth = 0.6;
      ctx.beginPath();
      X_TICKS.forEach(v => { const px = xs.getPixelForValue(v); ctx.moveTo(px, a.bottom); ctx.lineTo(px, a.bottom + 1.8); });
      const lo = Math.floor(Math.log10(ys.min)), hi = Math.ceil(Math.log10(ys.max));
      for (let d = lo; d <= hi; d++) {
        for (let m = 1; m <= 9; m++) {
          const v = m * Math.pow(10, d);
          if (v < ys.min || v > ys.max) continue;
          const py = ys.getPixelForValue(v);
          const len = m === 1 ? 1.8 : 1.0;
          ctx.moveTo(a.left, py); ctx.lineTo(a.left - len, py);
        }
      }
      ctx.stroke();
      // frame
      ctx.strokeStyle = '#333'; ctx.lineWidth = 0.7;
      ctx.strokeRect(a.left, a.top, a.right - a.left, a.bottom - a.top);
      // title
      const fs = 5.0;
      const parts = [['CEC2017 ', `${fs}px ${FONT}`, 0], ['f', `italic ${fs}px ${FONT}`, 0],
                     [sub.split('').map(c => SUB[c]).join(''), `${fs}px ${FONT}`, 0], [' 50-D', `${fs}px ${FONT}`, 0]];
      let tw = 0; parts.forEach(p => { ctx.font = p[1]; tw += ctx.measureText(p[0]).width; });
      let tx = (a.left + a.right) / 2 - tw / 2; const ty = a.top - 2.6;
      ctx.fillStyle = '#222'; ctx.textBaseline = 'alphabetic'; ctx.textAlign = 'left';
      parts.forEach(p => { ctx.font = p[1]; ctx.fillText(p[0], tx, ty + p[2]); tx += ctx.measureText(p[0]).width; });
      // legend
      const lf = 3.7, sp = 5.55, padT = 3.4, hl = 8.0, txo = 12.0;
      ctx.font = `${lf}px ${FONT}`;
      const maxw = Math.max(...ALGOS.map(s => ctx.measureText(s).width));
      const lw = txo + maxw + 2.2, lh = padT * 2 + sp * 12;
      let lx, ly;
      if (side === 'r') { lx = a.right - 1.5 - lw; ly = a.top + gap; }
      else { lx = a.left + 1.5; ly = a.bottom - gap - lh; }
      ctx.fillStyle = 'rgba(255,255,255,0.8)';
      ctx.strokeStyle = 'rgba(200,200,200,0.9)'; ctx.lineWidth = 0.5;
      ctx.beginPath();
      if (ctx.roundRect) ctx.roundRect(lx, ly, lw, lh, 1.2); else ctx.rect(lx, ly, lw, lh);
      ctx.fill(); ctx.stroke();
      ALGOS.forEach((name, i) => {
        const cy = ly + padT + i * sp;
        const st = lineStyle(i);
        ctx.strokeStyle = st.color; ctx.lineWidth = st.width; ctx.setLineDash(st.dash);
        ctx.beginPath(); ctx.moveTo(lx + 1.8, cy); ctx.lineTo(lx + 1.8 + hl, cy); ctx.stroke();
        ctx.setLineDash([]);
        ctx.fillStyle = '#222'; ctx.textBaseline = 'middle'; ctx.font = `${lf}px ${FONT}`;
        ctx.fillText(name, lx + txo, cy + 0.2);
      });
      ctx.restore();
    }
  };
}

const wrap = document.getElementById('wrap');
const LAST_ROW_LEFT = [0, 233, 468, 702];
PANELS.forEach((p, k) => {
  const [sub, data, yt, ymin, ymax, side, gap] = p;
  const row = Math.floor(k / 5), col = k % 5;
  const cv = document.createElement('canvas');
  cv.width = 174; cv.height = 131;
  cv.style.width = '174px'; cv.style.height = '131px';
  let left, top;
  if (row < 5) { left = Math.round(col * 174.4); top = Math.round(row * 130.8); }
  else { left = LAST_ROW_LEFT[col]; top = 653; }
  cv.style.left = left + 'px'; cv.style.top = top + 'px';
  wrap.appendChild(cv);
  const datasets = data.map((vals, i) => {
    const st = lineStyle(i);
    return {
      label: ALGOS[i],
      data: FES.map((x, j) => ({x: x, y: vals[j]})),
      borderColor: st.color, borderWidth: st.width, borderDash: st.dash,
      pointRadius: 0, fill: false, cubicInterpolationMode: 'monotone'
    };
  });
  new Chart(cv, {
    type: 'line',
    data: { datasets },
    options: {
      responsive: false, animation: false, devicePixelRatio: 1,
      events: [],
      layout: { padding: { left: 4, top: 16, right: 19, bottom: 0 } },
      plugins: { legend: { display: false }, tooltip: { enabled: false }, title: { display: false } },
      scales: {
        x: {
          type: 'linear', min: -2500, max: 52500,
          afterBuildTicks: s => { s.ticks = X_TICKS.map(v => ({ value: v })); },
          afterFit: s => { s.height = 15; },
          ticks: { font: { size: 3.7 }, color: '#333', padding: 2.6, maxRotation: 0, autoSkip: false, callback: v => String(v) },
          grid: { display: false, drawTicks: false }, border: { display: false },
          title: { display: true, text: 'FEs', font: { size: 4.2 }, color: '#222', padding: { top: 0, bottom: 2.2 } }
        },
        y: {
          type: 'logarithmic', min: ymin, max: ymax,
          afterBuildTicks: s => { s.ticks = yt.map(v => ({ value: v })); },
          afterFit: s => { s.width = 17; },
          ticks: { font: { size: 3.7 }, color: '#333', padding: 2.2, autoSkip: false, callback: v => fmtTick(v) },
          grid: { display: false, drawTicks: false }, border: { display: false },
          title: { display: true, text: 'Fitness', font: { size: 4.2 }, color: '#222', padding: { top: 0, bottom: 0 } }
        }
      }
    },
    plugins: [makePlugin(sub, side, gap)]
  });
});
</script>
</body></html>
